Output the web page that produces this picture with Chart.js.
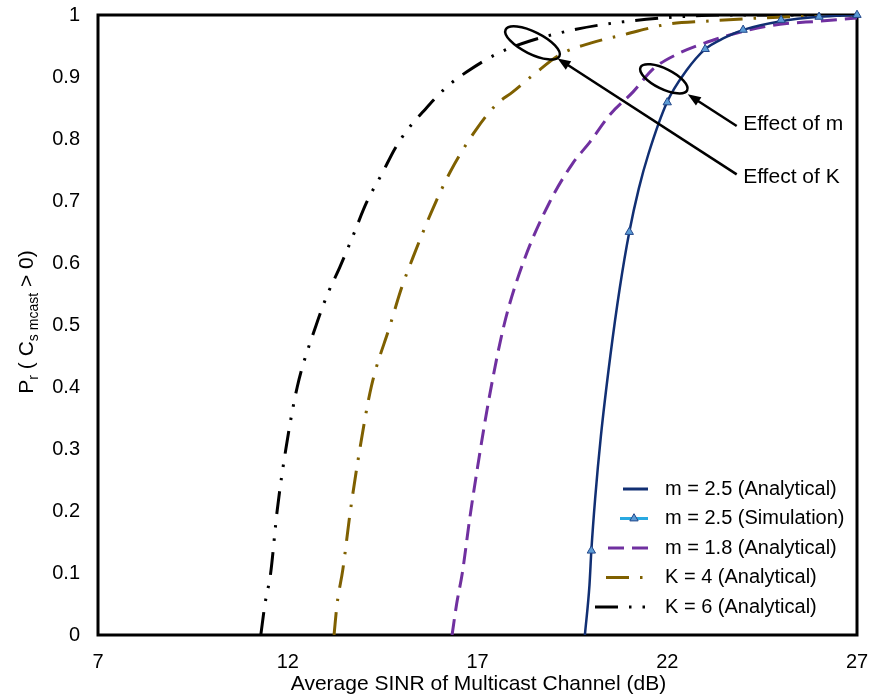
<!DOCTYPE html>
<html>
<head>
<meta charset="utf-8">
<title>Secrecy probability vs SINR</title>
<script src="https://cdn.jsdelivr.net/npm/chart.js@4.4.0/dist/chart.umd.min.js"></script>
<style>
    body { margin: 0; background: #fff; }
    #wrap { width: 875px; height: 700px; }
</style>
</head>
<body>
<div id="wrap"><canvas id="sinrChart" width="875" height="700"></canvas></div>
<script>
// values
const xTicks = [7, 12, 17, 22, 27];
const yTicks = [0, 0.1, 0.2, 0.3, 0.4, 0.5, 0.6, 0.7, 0.8, 0.9, 1];

const m25X = [19.83, 19.95, 20, 20.1, 20.25, 20.5, 20.75, 21, 21.25, 21.5, 22, 22.5, 23, 23.5, 24, 25, 26, 27];
const m25Y = [0, 0.08, 0.136, 0.22, 0.32, 0.45, 0.56, 0.65, 0.72, 0.775, 0.86, 0.91, 0.945, 0.963, 0.976, 0.99, 0.997, 1.0];

const simX = [20, 21, 22, 23, 24, 25, 26, 27];
const simY = [0.136, 0.65, 0.859, 0.945, 0.976, 0.992, 0.997, 1.0];

const m18X = [16.33, 16.45, 16.6, 16.8, 17.0, 17.3, 17.7, 18.2, 18.9, 19.5, 19.96, 20.5, 21.1, 21.63, 22.3, 23.04, 23.96, 24.97, 26.0, 27];
const m18Y = [0, 0.05, 0.1, 0.19, 0.27, 0.38, 0.5, 0.6, 0.698, 0.76, 0.795, 0.84, 0.876, 0.913, 0.938, 0.956, 0.973, 0.985, 0.99, 0.995];

const k4X = [13.22, 13.3, 13.45, 13.65, 13.9, 14.2, 14.7, 15.0, 15.3, 15.77, 16.29, 16.95, 17.5, 17.93, 18.5, 19.2, 20.0, 20.9, 22.0, 23.0, 24.4, 26.0, 27];
const k4Y = [0, 0.05, 0.105, 0.2, 0.3, 0.4, 0.5, 0.56, 0.609, 0.68, 0.748, 0.814, 0.856, 0.876, 0.905, 0.937, 0.955, 0.969, 0.985, 0.99, 0.995, 0.999, 1.0];

const k6X = [11.29, 11.4, 11.55, 11.72, 11.95, 12.25, 12.75, 13.05, 13.37, 13.7, 14.08, 14.5, 14.82, 15.13, 15.55, 16.19, 16.71, 17.5, 18.38, 19.6, 20.83, 22.3, 23.5, 27];
const k6Y = [0, 0.05, 0.1, 0.2, 0.3, 0.4, 0.5, 0.55, 0.593, 0.641, 0.698, 0.746, 0.784, 0.813, 0.843, 0.884, 0.908, 0.937, 0.958, 0.977, 0.989, 0.997, 1.0, 1.0];

const seriesLabels = [
    'm = 2.5 (Analytical)',
    'm = 2.5 (Simulation)',
    'm = 1.8 (Analytical)',
    'K = 4 (Analytical)',
    'K = 6 (Analytical)'
];

const FONT = "'Liberation Sans', Arial, Helvetica, sans-serif";
Chart.defaults.font.family = FONT;
Chart.defaults.color = '#000';

function toPoints(xs, ys) {
    return xs.map((x, i) => ({ x: x, y: ys[i] }));
}

function drawArrow(ctx, x1, y1, x2, y2) {
    const ang = Math.atan2(y2 - y1, x2 - x1);
    const len = 13, half = 5;
    ctx.beginPath();
    ctx.moveTo(x1, y1);
    ctx.lineTo(x2 - Math.cos(ang) * len * 0.8, y2 - Math.sin(ang) * len * 0.8);
    ctx.stroke();
    ctx.beginPath();
    ctx.moveTo(x2, y2);
    ctx.lineTo(x2 - Math.cos(ang) * len - Math.sin(ang) * half, y2 - Math.sin(ang) * len + Math.cos(ang) * half);
    ctx.lineTo(x2 - Math.cos(ang) * len + Math.sin(ang) * half, y2 - Math.sin(ang) * len - Math.cos(ang) * half);
    ctx.closePath();
    ctx.fill();
}

const framePlugin = {
    id: 'frame',
    beforeDatasetsDraw(chart) {
        const { ctx, chartArea: a } = chart;
        ctx.save();
        ctx.strokeStyle = '#000';
        ctx.lineWidth = 3;
        ctx.strokeRect(a.left, a.top, a.right - a.left, a.bottom - a.top);
        ctx.restore();
    }
};

const extrasPlugin = {
    id: 'extras',
    afterDraw(chart) {
        const { ctx, chartArea: a, scales } = chart;
        const px = v => scales.x.getPixelForValue(v);
        const py = v => scales.y.getPixelForValue(v);
        ctx.save();

        // y axis title with subscripts
        const parts = [
            { t: 'P', s: 21, sub: false },
            { t: 'r', s: 14, sub: true },
            { t: ' ( C', s: 21, sub: false },
            { t: 's mcast', s: 14, sub: true },
            { t: ' > 0)', s: 21, sub: false }
        ];
        let total = 0;
        parts.forEach(p => {
            ctx.font = p.s + 'px ' + FONT;
            p.w = ctx.measureText(p.t).width;
            total += p.w;
        });
        ctx.translate(33, 322);
        ctx.rotate(-Math.PI / 2);
        ctx.fillStyle = '#000';
        ctx.textBaseline = 'alphabetic';
        let cx = -total / 2;
        parts.forEach(p => {
            ctx.font = p.s + 'px ' + FONT;
            ctx.fillText(p.t, cx, p.sub ? 5 : 0);
            cx += p.w;
        });
        ctx.setTransform(1, 0, 0, 1, 0, 0);

        // x axis title
        ctx.font = '21px ' + FONT;
        ctx.textAlign = 'center';
        ctx.textBaseline = 'middle';
        ctx.fillText('Average SINR of Multicast Channel (dB)', (a.left + a.right) / 2 + 1, a.bottom + 49);

        // annotations: ellipses, arrows, text
        ctx.strokeStyle = '#000';
        ctx.fillStyle = '#000';
        ctx.lineWidth = 2.5;
        ctx.beginPath();
        ctx.ellipse(px(18.45), py(0.955), 30, 11, 0.46, 0, Math.PI * 2);
        ctx.stroke();
        ctx.beginPath();
        ctx.ellipse(px(21.91), py(0.897), 26, 10, 0.46, 0, Math.PI * 2);
        ctx.stroke();
        drawArrow(ctx, px(23.83), py(0.743), px(19.11), py(0.930));
        drawArrow(ctx, px(23.83), py(0.821), px(22.54), py(0.872));
        ctx.font = '21px ' + FONT;
        ctx.textAlign = 'left';
        ctx.textBaseline = 'middle';
        ctx.fillText('Effect of m', px(24.0), py(0.824));
        ctx.fillText('Effect of K', px(24.0), py(0.738));

        // legend inside the plot, bottom right
        const starts = [623, 620, 608, 606, 595];
        const lineEnd = 648;
        chart.data.datasets.forEach((ds, i) => {
            const y = 489 + i * 29.5;
            ctx.save();
            ctx.strokeStyle = ds.borderColor;
            ctx.lineWidth = 3;
            ctx.setLineDash(ds.borderDash || []);
            ctx.beginPath();
            ctx.moveTo(starts[i], y);
            ctx.lineTo(lineEnd, y);
            ctx.stroke();
            ctx.restore();
            if (ds.showLine === false) {
                ctx.save();
                ctx.fillStyle = ds.pointBackgroundColor;
                ctx.strokeStyle = ds.pointBorderColor;
                ctx.lineWidth = 1;
                const r = ds.pointRadius;
                const mx = (starts[i] + lineEnd) / 2;
                ctx.beginPath();
                for (let k = 0; k < 3; k++) {
                    const ang = k * 2 * Math.PI / 3;
                    const vx = mx + Math.sin(ang) * r, vy = y - Math.cos(ang) * r;
                    if (k === 0) ctx.moveTo(vx, vy); else ctx.lineTo(vx, vy);
                }
                ctx.closePath();
                ctx.fill();
                ctx.stroke();
                ctx.restore();
            }
            ctx.font = '20px ' + FONT;
            ctx.fillStyle = '#000';
            ctx.textAlign = 'left';
            ctx.textBaseline = 'middle';
            ctx.fillText(ds.label, 665, y);
        });

        ctx.restore();
    }
};

function buildChart() {
    const ctx = document.getElementById('sinrChart').getContext('2d');

    new Chart(ctx, {
        type: 'line',
        data: {
            datasets: [
                {
                    label: seriesLabels[0],
                    data: toPoints(m25X, m25Y),
                    borderColor: '#112f73',
                    borderWidth: 2.5,
                    pointRadius: 0,
                    cubicInterpolationMode: 'monotone',
                    order: 2
                },
                {
                    label: seriesLabels[1],
                    data: toPoints(simX, simY),
                    borderColor: '#29a9e1',
                    showLine: false,
                    pointStyle: 'triangle',
                    pointRadius: 4.8,
                    pointBackgroundColor: '#5b9bd5',
                    pointBorderColor: '#23478a',
                    pointBorderWidth: 1,
                    clip: false,
                    order: 1
                },
                {
                    label: seriesLabels[2],
                    data: toPoints(m18X, m18Y),
                    borderColor: '#7030a0',
                    borderWidth: 3,
                    borderDash: [16, 8],
                    pointRadius: 0,
                    cubicInterpolationMode: 'monotone',
                    order: 3
                },
                {
                    label: seriesLabels[3],
                    data: toPoints(k4X, k4Y),
                    borderColor: '#7f6000',
                    borderWidth: 3,
                    borderDash: [23, 11, 2.5, 11],
                    pointRadius: 0,
                    cubicInterpolationMode: 'monotone',
                    order: 4
                },
                {
                    label: seriesLabels[4],
                    data: toPoints(k6X, k6Y),
                    borderColor: '#000000',
                    borderWidth: 3,
                    borderDash: [23, 11, 2.5, 11, 2.5, 11],
                    pointRadius: 0,
                    cubicInterpolationMode: 'monotone',
                    order: 5
                }
            ]
        },
        options: {
            responsive: false,
            animation: false,
            layout: { padding: { top: 15, right: 18, left: 0, bottom: 0 } },
            plugins: {
                legend: { display: false },
                tooltip: { enabled: false }
            },
            scales: {
                x: {
                    type: 'linear',
                    min: xTicks[0],
                    max: xTicks[xTicks.length - 1],
                    afterBuildTicks: scale => { scale.ticks = xTicks.map(v => ({ value: v })); },
                    grid: { display: false, drawTicks: false },
                    border: { display: false },
                    ticks: { font: { size: 20 }, color: '#000', padding: 15, maxRotation: 0 },
                    afterFit: scale => {
                        scale.height = 65;
                        scale.paddingLeft = 0;
                        scale.paddingRight = 0;
                    }
                },
                y: {
                    type: 'linear',
                    min: yTicks[0],
                    max: yTicks[yTicks.length - 1],
                    afterBuildTicks: scale => { scale.ticks = yTicks.map(v => ({ value: v })); },
                    grid: { display: false, drawTicks: false },
                    border: { display: false },
                    ticks: {
                        font: { size: 20 },
                        color: '#000',
                        padding: 18,
                        callback: v => (v === 0 || v === 1) ? String(v) : v.toFixed(1)
                    },
                    afterFit: scale => {
                        scale.width = 98;
                        scale.paddingTop = 0;
                        scale.paddingBottom = 0;
                    }
                }
            }
        },
        plugins: [framePlugin, extrasPlugin]
    });
}

document.addEventListener('DOMContentLoaded', buildChart);
</script>
</body>
</html>
